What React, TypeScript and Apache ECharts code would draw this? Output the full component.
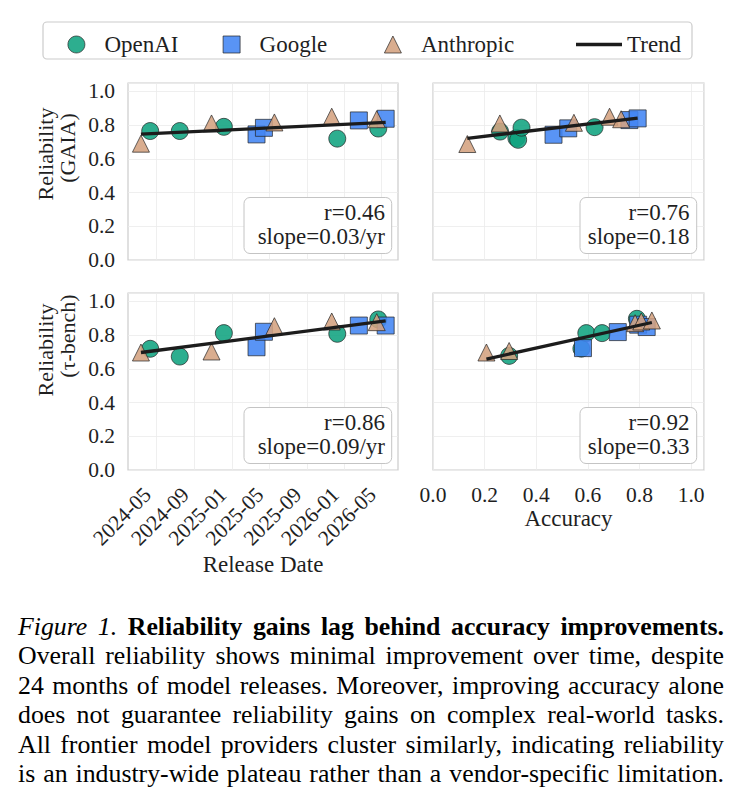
import React, { useEffect, useRef } from 'react';
import * as echarts from 'echarts';

const FONT = 'Liberation Serif';
const TEXT = '#1f1f1f';

const providers = ['OpenAI', 'Google', 'Anthropic'];
const providerColors = ['#10A37F', '#4285F4', '#D4A27F'];
const providerSymbols = ['circle', 'rect', 'triangle'];

const dateTicks = ['2024-05-01', '2024-09-01', '2025-01-01', '2025-05-01', '2025-09-01', '2026-01-01', '2026-05-01'];
const dateRange = ['2024-01-29', '2026-06-23'];

// GAIA reliability vs release date
const gaiaDateOpenAI = [['2024-04-10', 0.765], ['2024-07-15', 0.765], ['2024-12-05', 0.79], ['2025-12-08', 0.72], ['2026-04-20', 0.78]];
const gaiaDateGoogle = [['2025-03-21', 0.745], ['2025-04-14', 0.784], ['2026-02-16', 0.828], ['2026-05-14', 0.838]];
const gaiaDateAnthropic = [['2024-03-11', 0.69], ['2024-10-26', 0.81], ['2025-05-18', 0.816], ['2025-11-20', 0.85], ['2026-04-15', 0.835]];
const gaiaDateTrend = [['2024-03-11', 0.747], ['2026-05-14', 0.816]];

// GAIA reliability vs accuracy
const gaiaAccOpenAI = [[0.26, 0.762], [0.323, 0.723], [0.33, 0.713], [0.343, 0.785], [0.626, 0.788]];
const gaiaAccGoogle = [[0.467, 0.743], [0.524, 0.781], [0.761, 0.83], [0.793, 0.84]];
const gaiaAccAnthropic = [[0.133, 0.688], [0.259, 0.81], [0.546, 0.814], [0.684, 0.85], [0.729, 0.835]];
const gaiaAccTrend = [[0.133, 0.722], [0.793, 0.841]];

// tau-bench reliability vs release date
const tauDateOpenAI = [['2024-04-10', 0.719], ['2024-07-15', 0.673], ['2024-12-05', 0.812], ['2025-12-08', 0.808], ['2026-04-20', 0.893]];
const tauDateGoogle = [['2025-03-21', 0.728], ['2025-04-14', 0.82], ['2026-02-16', 0.857], ['2026-05-14', 0.857]];
const tauDateAnthropic = [['2024-03-11', 0.697], ['2024-10-26', 0.703], ['2025-05-18', 0.853], ['2025-11-20', 0.881], ['2026-04-15', 0.877]];
const tauDateTrend = [['2024-03-11', 0.697], ['2026-05-14', 0.885]];

// tau-bench reliability vs accuracy
const tauAccOpenAI = [[0.295, 0.677], [0.575, 0.72], [0.594, 0.812], [0.655, 0.812], [0.79, 0.897]];
const tauAccGoogle = [[0.581, 0.723], [0.716, 0.818], [0.795, 0.862], [0.828, 0.848]];
const tauAccAnthropic = [[0.207, 0.697], [0.295, 0.706], [0.783, 0.871], [0.807, 0.881], [0.848, 0.887]];
const tauAccTrend = [[0.207, 0.658], [0.848, 0.875]];

const statLines = [
  ['r=0.46', 'slope=0.03/yr'],
  ['r=0.76', 'slope=0.18'],
  ['r=0.86', 'slope=0.09/yr'],
  ['r=0.92', 'slope=0.33'],
];

const captionLines = [
  'Overall reliability shows minimal improvement over time, despite',
  '24 months of model releases. Moreover, improving accuracy alone',
  'does not guarantee reliability gains on complex real-world tasks.',
  'All frontier model providers cluster similarly, indicating reliability',
  'is an industry-wide plateau rather than a vendor-specific limitation.',
];

const ts = (d: string) => Date.parse(d + 'T00:00:00Z');
const fmtDate = (v: number) => {
  const d = new Date(v);
  return d.getUTCFullYear() + '-' + String(d.getUTCMonth() + 1).padStart(2, '0');
};

const legendIcons = [
  'circle',
  'path://M0,0L10,0L10,10L0,10Z',
  'path://M5,0L10,10L0,10Z',
  'path://M0,0L46,0L46,3.4L0,3.4Z',
];

function buildOption() {
  const panels = [
    { kind: 'date', sets: [gaiaDateOpenAI, gaiaDateGoogle, gaiaDateAnthropic], trend: gaiaDateTrend },
    { kind: 'acc', sets: [gaiaAccOpenAI, gaiaAccGoogle, gaiaAccAnthropic], trend: gaiaAccTrend },
    { kind: 'date', sets: [tauDateOpenAI, tauDateGoogle, tauDateAnthropic], trend: tauDateTrend },
    { kind: 'acc', sets: [tauAccOpenAI, tauAccGoogle, tauAccAnthropic], trend: tauAccTrend },
  ];
  const grids = [
    { left: 128, top: 83, width: 270, height: 177 },
    { left: 433, top: 83, width: 271, height: 177 },
    { left: 128, top: 293, width: 270, height: 177 },
    { left: 433, top: 293, width: 271, height: 177 },
  ].map((g) => ({ ...g, show: true, borderColor: '#cccccc', borderWidth: 1.2, backgroundColor: 'transparent' }));

  const splitLine = { show: true, lineStyle: { color: '#ebebeb', width: 0.8 } };
  const tickVals = dateTicks.map(ts);

  const xAxis = panels.map((p, i) => {
    const bottom = i >= 2;
    if (p.kind === 'date') {
      return {
        type: 'value', gridIndex: i, min: ts(dateRange[0]), max: ts(dateRange[1]),
        axisLine: { show: false },
        axisTick: { show: false, customValues: tickVals },
        splitLine,
        axisLabel: {
          show: bottom, customValues: tickVals, rotate: 45, formatter: fmtDate,
          margin: 12, padding: [0, 13, 0, 0], fontFamily: FONT, fontSize: 21.5, color: TEXT,
        },
        name: bottom ? 'Release Date' : '', nameLocation: 'middle', nameGap: 83,
        nameTextStyle: { fontFamily: FONT, fontSize: 23, color: TEXT },
      };
    }
    return {
      type: 'value', gridIndex: i, min: 0, max: 1.05, interval: 0.2,
      axisLine: { show: false }, axisTick: { show: false }, splitLine,
      axisLabel: {
        show: bottom, showMaxLabel: false, formatter: (v: number) => v.toFixed(1),
        margin: 14, fontFamily: FONT, fontSize: 21.5, color: TEXT,
      },
      name: bottom ? 'Accuracy' : '', nameLocation: 'middle', nameGap: 37,
      nameTextStyle: { fontFamily: FONT, fontSize: 23, color: TEXT },
    };
  });

  const yAxis = panels.map((p, i) => ({
    type: 'value', gridIndex: i, min: 0, max: 1.05, interval: 0.2,
    axisLine: { show: false }, axisTick: { show: false }, splitLine,
    axisLabel: {
      show: i % 2 === 0, showMaxLabel: false, formatter: (v: number) => v.toFixed(1),
      margin: 13, fontFamily: FONT, fontSize: 21.5, color: TEXT,
    },
  }));

  const series: any[] = [];
  panels.forEach((p, i) => {
    const conv = (pt: any[]) => (p.kind === 'date' ? [ts(pt[0]), pt[1]] : pt);
    p.sets.forEach((set, k) => {
      series.push({
        name: providers[k], type: 'scatter', xAxisIndex: i, yAxisIndex: i,
        symbol: providerSymbols[k], symbolSize: 17, z: 2 + k,
        itemStyle: { color: providerColors[k], opacity: 0.88, borderColor: '#222', borderWidth: 0.8 },
        data: set.map(conv),
      });
    });
    series.push({
      name: 'Trend', type: 'line', xAxisIndex: i, yAxisIndex: i, z: 10,
      symbol: 'none', showSymbol: false, silent: true,
      itemStyle: { color: '#1c1c1c' },
      lineStyle: { color: '#1c1c1c', width: 3.3 },
      data: p.trend.map(conv),
    });
  });

  const legendLefts = [67.5, 222.7, 384, 576];
  const legend = providers.concat(['Trend']).map((name, i) => ({
    data: [{ name, icon: legendIcons[i] }], left: legendLefts[i], top: 33, padding: 0, orient: 'horizontal',
    itemWidth: 46, itemHeight: 17, selectedMode: false, symbolKeepAspect: true,
    textStyle: { fontFamily: FONT, fontSize: 23, color: TEXT },
    itemStyle: i < 3 ? { borderWidth: 0.8, borderColor: '#222' } : { borderWidth: 0 },
  }));

  const boxes = [
    { x: 244, y: 197.5, w: 147.7, h: 56, tx: 385, ty: 224 },
    { x: 580, y: 197.5, w: 116.7, h: 56, tx: 689.5, ty: 224 },
    { x: 244, y: 407.5, w: 147.7, h: 56, tx: 385, ty: 434 },
    { x: 580, y: 407.5, w: 116.7, h: 56, tx: 689.5, ty: 434 },
  ];
  const graphic: any[] = [
    {
      type: 'rect', z: 0, shape: { x: 43, y: 22, width: 649, height: 37, r: 4 },
      style: { fill: '#ffffff', stroke: '#cccccc', lineWidth: 1.2 },
    },
  ];
  boxes.forEach((b, i) => {
    graphic.push({
      type: 'rect', z: 20, shape: { x: b.x, y: b.y, width: b.w, height: b.h, r: 6 },
      style: { fill: '#ffffff', stroke: '#c4c4c4', lineWidth: 1 },
    });
    graphic.push({
      type: 'text', z: 21, x: b.tx, y: b.ty,
      style: {
        text: statLines[i].join('\n'), fontFamily: FONT, fontSize: 23, fill: TEXT,
        align: 'right', textAlign: 'right', verticalAlign: 'middle', textVerticalAlign: 'middle', lineHeight: 24,
      },
    });
  });
  const yTitles = [
    { text: 'Reliability', x: 45, y: 154 },
    { text: '(GAIA)', x: 67, y: 148 },
    { text: 'Reliability', x: 45, y: 350 },
    { text: '(τ-bench)', x: 67, y: 336 },
  ];
  yTitles.forEach((t) => {
    graphic.push({
      type: 'text', z: 5, x: t.x, y: t.y, rotation: Math.PI / 2,
      style: {
        text: t.text, fontFamily: FONT, fontSize: 22, fill: TEXT,
        align: 'center', textAlign: 'center', verticalAlign: 'middle', textVerticalAlign: 'middle',
      },
    });
  });

  return {
    animation: false, backgroundColor: '#ffffff',
    grid: grids, xAxis, yAxis, series, legend, graphic,
  };
}

export default function App() {
  const ref = useRef<HTMLDivElement>(null);
  useEffect(() => {
    if (!ref.current) return;
    const chart = echarts.init(ref.current, undefined, { renderer: 'svg' });
    chart.setOption(buildOption() as any);
    return () => chart.dispose();
  }, []);
  return (
    <div style={{ position: 'absolute', left: 0, top: 0, width: 740, height: 805, background: '#fff' }}>
      <div ref={ref} style={{ position: 'absolute', left: 0, top: 0, width: 740, height: 600 }} />
      <div
        style={{
          position: 'absolute', left: 18, top: 612, width: 706,
          fontFamily: 'Liberation Serif, Times New Roman, serif', fontSize: 25.8, lineHeight: '29.4px', color: '#000',
        }}
      >
        <div style={{ textAlign: 'justify', textAlignLast: 'justify' }}>
          <i>Figure 1.</i> <b>Reliability gains lag behind accuracy improvements.</b>
        </div>
        {captionLines.map((l, i) => (
          <div key={i} style={{ textAlign: 'justify', textAlignLast: 'justify' }}>{l}</div>
        ))}
      </div>
    </div>
  );
}
